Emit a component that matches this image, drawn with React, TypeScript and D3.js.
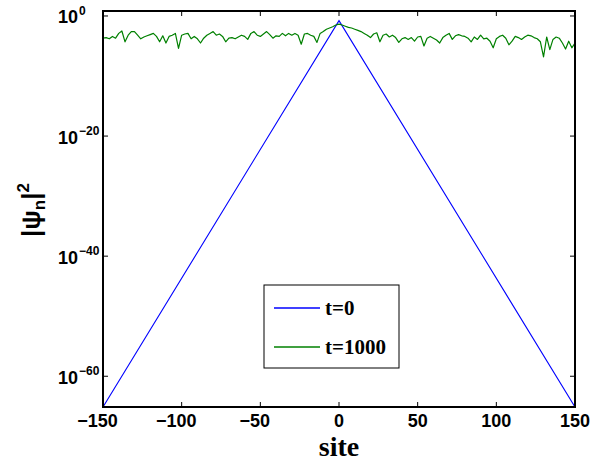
import { useEffect, useRef } from "react";
import * as d3 from "d3";

const VB_W = 592;
const VB_H = 465;
const PLOT = { left: 103, right: 575, top: 11, bottom: 407 };

const SANS = '"Liberation Sans", Arial, Helvetica, sans-serif';
const SERIF = '"Liberation Serif", "Times New Roman", serif';

// y axis: log10 limits
const Y_LOG_MIN = -65.12;
const Y_LOG_MAX = 0.83;

const X_TICKS = [-150, -100, -50, 0, 50, 100, 150];
const Y_TICK_EXPONENTS = [0, -20, -40, -60];

// t=0: exponentially localised state (straight in log scale)
const T0_SITES = [-150, 0, 150];
const T0_LOG10 = [-65.12, -0.78, -65.12];

// t=1000: log10 |psi_n|^2 at every second site, -150..150
const T1000_SITES = d3.range(-150, 151, 2);
const T1000_LOG10 = [
  -3.7, -3.6, -3.8, -3.4, -3.7, -2.9, -2.5, -4.3, -3.2, -2.6, -2.6, -3.2, -3.8,
  -3.5, -3.3, -3.1, -2.9, -3.4, -4.3, -3.3, -4.5, -3.4, -3.2, -2.9, -5.4, -3.2,
  -3.0, -2.9, -3.8, -3.4, -3.8, -4.5, -3.7, -3.2, -2.9, -2.6, -3.2, -3.0, -3.4,
  -4.3, -3.7, -3.6, -3.8, -3.5, -3.2, -3.4, -3.9, -2.9, -2.6, -3.2, -3.4,
  -3.0, -2.6, -3.1, -3.7, -3.3, -3.4, -2.9, -3.3, -2.9, -3.2, -2.9, -3.2, -4.7,
  -3.0, -2.9, -3.2, -3.4, -4.4, -2.9, -2.6, -2.2, -2.0, -1.8, -1.5, -1.35,
  -1.5, -1.7, -1.9, -2.0, -2.2, -2.4, -2.6, -2.9, -3.2, -3.6, -3.0, -2.8, -4.3,
  -3.2, -3.0, -3.5, -3.2, -3.6, -4.4, -3.8, -3.6, -3.9, -3.6, -4.2, -3.5, -3.4,
  -5.0, -3.7, -3.4, -3.7, -4.0, -4.5, -3.6, -3.2, -2.9, -3.9, -3.3, -3.1, -3.3,
  -3.4, -3.7, -4.3, -3.5, -3.9, -3.2, -3.8, -3.7, -4.2, -5.3, -3.8, -3.4, -3.2,
  -3.7, -4.8, -4.2, -3.4, -3.6, -3.9, -3.5, -3.2, -3.3, -3.6, -3.8, -4.3, -6.8,
  -3.5, -5.6, -3.9, -3.5, -3.7, -4.5, -5.5, -4.2, -5.3, -4.5,
];

const LEGEND_LABELS = ["t=0", "t=1000"];
const COLORS = { t0: "#0000ff", t1000: "#008000" };

export default function App() {
  const svgRef = useRef<SVGSVGElement | null>(null);

  useEffect(() => {
    const svg = d3.select(svgRef.current);
    svg.selectAll("*").remove();

    const x = d3.scaleLinear().domain([-150, 150]).range([PLOT.left, PLOT.right]);
    const y = d3
      .scaleLog()
      .domain([Math.pow(10, Y_LOG_MIN), Math.pow(10, Y_LOG_MAX)])
      .range([PLOT.bottom, PLOT.top]);

    svg.append("rect").attr("width", VB_W).attr("height", VB_H).attr("fill", "#fff");

    const clip = svg.append("defs").append("clipPath").attr("id", "plot-clip");
    clip
      .append("rect")
      .attr("x", PLOT.left)
      .attr("y", PLOT.top)
      .attr("width", PLOT.right - PLOT.left)
      .attr("height", PLOT.bottom - PLOT.top);

    const line = d3
      .line<[number, number]>()
      .x((d) => x(d[0]))
      .y((d) => y(Math.pow(10, d[1])));

    const t0: [number, number][] = T0_SITES.map((s, i) => [s, T0_LOG10[i]]);
    const t1000: [number, number][] = T1000_SITES.map((s, i) => [s, T1000_LOG10[i]]);

    const lines = svg.append("g").attr("clip-path", "url(#plot-clip)");
    lines
      .append("path")
      .datum(t0)
      .attr("d", line)
      .attr("fill", "none")
      .attr("stroke", COLORS.t0)
      .attr("stroke-width", 1.1);
    lines
      .append("path")
      .datum(t1000)
      .attr("d", line)
      .attr("fill", "none")
      .attr("stroke", COLORS.t1000)
      .attr("stroke-width", 1.2)
      .attr("stroke-linejoin", "round");

    // ticks (inward, on all four sides)
    const ticks = svg.append("g").attr("stroke", "#000").attr("stroke-width", 1);
    X_TICKS.forEach((t) => {
      ticks.append("line").attr("x1", x(t)).attr("x2", x(t)).attr("y1", PLOT.bottom).attr("y2", PLOT.bottom - 5);
      ticks.append("line").attr("x1", x(t)).attr("x2", x(t)).attr("y1", PLOT.top).attr("y2", PLOT.top + 5);
    });
    Y_TICK_EXPONENTS.forEach((e) => {
      const yy = y(Math.pow(10, e));
      ticks.append("line").attr("x1", PLOT.left).attr("x2", PLOT.left + 5).attr("y1", yy).attr("y2", yy);
      ticks.append("line").attr("x1", PLOT.right).attr("x2", PLOT.right - 5).attr("y1", yy).attr("y2", yy);
    });

    // axes box
    svg
      .append("rect")
      .attr("x", PLOT.left)
      .attr("y", PLOT.top)
      .attr("width", PLOT.right - PLOT.left)
      .attr("height", PLOT.bottom - PLOT.top)
      .attr("fill", "none")
      .attr("stroke", "#000")
      .attr("stroke-width", 2);

    // x tick labels
    svg
      .append("g")
      .selectAll("text")
      .data(X_TICKS)
      .join("text")
      .attr("x", (d) => x(d) - (d < 0 ? 5.5 : 0))
      .attr("y", PLOT.bottom + 20)
      .attr("text-anchor", "middle")
      .attr("font-family", SANS)
      .attr("font-weight", 700)
      .attr("font-size", 18)
      .text((d) => (d < 0 ? `\u2212${-d}` : `${d}`));

    // y tick labels 10^e
    const yLabels = svg
      .append("g")
      .attr("font-family", SANS)
      .attr("font-weight", 700);
    Y_TICK_EXPONENTS.forEach((e) => {
      const yy = y(Math.pow(10, e));
      yLabels
        .append("text")
        .attr("x", 78)
        .attr("y", yy + 7.5)
        .attr("text-anchor", "end")
        .attr("font-size", 18)
        .text("10");
      yLabels
        .append("text")
        .attr("x", 79)
        .attr("y", yy - 1)
        .attr("font-size", 12)
        .text(e < 0 ? `\u2212${-e}` : `${e}`);
    });

    // axis titles
    svg
      .append("text")
      .attr("x", (PLOT.left + PLOT.right) / 2)
      .attr("y", 456)
      .attr("text-anchor", "middle")
      .attr("font-family", SERIF)
      .attr("font-weight", 700)
      .attr("font-size", 28)
      .text("site");

    const yTitle = svg
      .append("text")
      .attr("transform", "translate(40,210) rotate(-90)")
      .attr("text-anchor", "middle")
      .attr("font-family", SANS)
      .attr("font-weight", 700)
      .attr("font-size", 26);
    yTitle.append("tspan").text("|\u03c8");
    yTitle.append("tspan").attr("font-size", 17).attr("dy", 5).text("n");
    yTitle.append("tspan").attr("dy", -5).text("|");
    yTitle.append("tspan").attr("font-size", 17).attr("dy", -11).text("2");

    // legend
    const legend = svg.append("g").attr("transform", "translate(264,285)");
    legend
      .append("rect")
      .attr("width", 135)
      .attr("height", 83)
      .attr("fill", "#fff")
      .attr("stroke", "#000")
      .attr("stroke-width", 1);
    const legendColors = [COLORS.t0, COLORS.t1000];
    LEGEND_LABELS.forEach((label, i) => {
      const ly = 23 + i * 39;
      legend
        .append("line")
        .attr("x1", 10)
        .attr("x2", 56)
        .attr("y1", ly)
        .attr("y2", ly)
        .attr("stroke", legendColors[i])
        .attr("stroke-width", 1.3);
      legend
        .append("text")
        .attr("x", 61)
        .attr("y", ly + 7)
        .attr("font-family", SERIF)
        .attr("font-weight", 700)
        .attr("font-size", 21)
        .text(label);
    });
  }, []);

  return (
    <svg
      ref={svgRef}
      width={VB_W}
      height={VB_H}
      viewBox={`0 0 ${VB_W} ${VB_H}`}
      style={{ position: "absolute", left: 0, top: 0, display: "block" }}
    />
  );
}
